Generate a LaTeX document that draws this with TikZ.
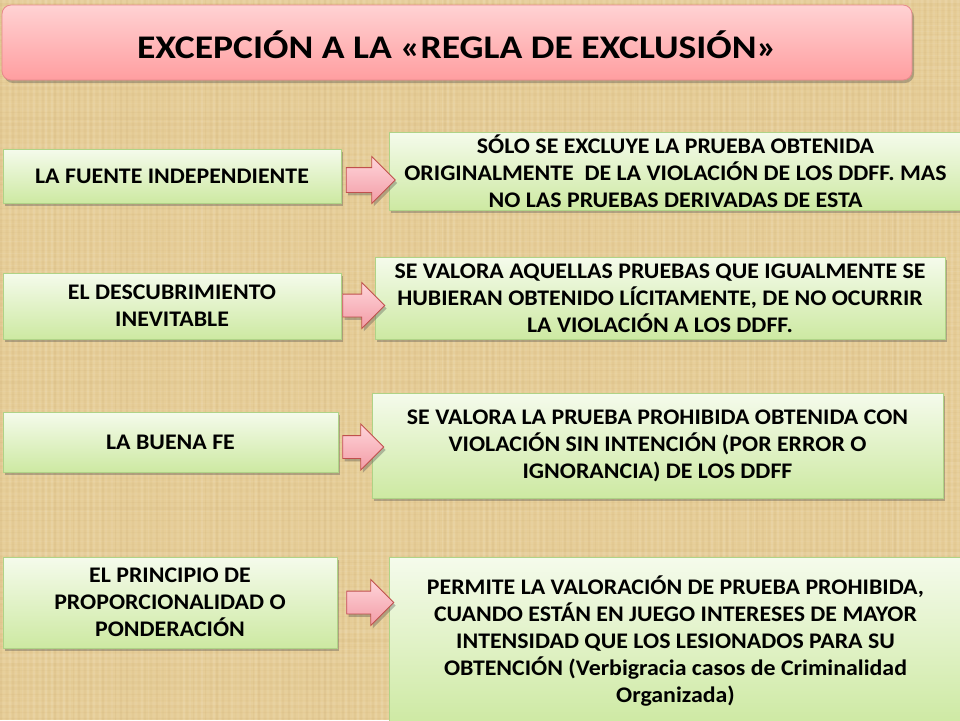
\documentclass[tikz,border=0pt]{standalone}
\usepackage{fontspec}
\setmainfont{Carlito}[FakeStretch=1.07]
\newfontfamily\titlefont{Carlito}[FakeStretch=1.14]
\usetikzlibrary{shapes.arrows,shadows}
\definecolor{bgtan}{HTML}{E6CD97}
\definecolor{titletop}{HTML}{FFD2D3}
\definecolor{titlebot}{HTML}{FF9EA0}
\definecolor{titleline}{HTML}{E88A8C}
\definecolor{greentop}{HTML}{F5FBEC}
\definecolor{greenbot}{HTML}{CDE9A2}
\definecolor{greenline}{HTML}{AFD387}
\definecolor{arrtop}{HTML}{FFD5DA}
\definecolor{arrbot}{HTML}{F29CA6}
\definecolor{arrline}{HTML}{C0504D}
\definecolor{weavedark}{HTML}{B8945A}
\tikzset{
  softshadow/.style={drop shadow={shadow xshift=2pt,shadow yshift=-3pt,opacity=0.35,fill=black!70}},
  titlebox/.style={draw=titleline,line width=0.8pt,rounded corners=9pt,top color=titletop,bottom color=titlebot,softshadow,inner sep=0pt},
  greenbox/.style={draw=greenline,line width=0.8pt,top color=greentop,bottom color=greenbot,softshadow,inner sep=0pt,align=center,
    font=\fontsize{22.3}{27}\selectfont\bfseries},
  blockarrow/.style={single arrow,draw=arrline,line width=0.8pt,top color=arrtop,bottom color=arrbot,inner xsep=0pt,
    single arrow head extend=11.5pt,softshadow},
}
\begin{document}
\begin{tikzpicture}[x=1pt,y=-1pt]
\useasboundingbox (0,0) rectangle (960,720);
\fill[bgtan] (0,0) rectangle (960,720);
% burlap texture
\pgfmathsetseed{7}
\foreach \i in {0,...,319}{
  \pgfmathsetmacro{\op}{0.03+0.08*rnd}
  \pgfmathsetmacro{\w}{0.8+1.6*rnd}
  \ifodd\i
    \draw[white,opacity=\op,line width=\w] (3*\i+1,0) -- (3*\i+1,720);
  \else
    \draw[weavedark,opacity=\op,line width=\w] (3*\i+1,0) -- (3*\i+1,720);
  \fi
}
\foreach \j in {0,...,239}{
  \pgfmathsetmacro{\op}{0.02+0.06*rnd}
  \pgfmathsetmacro{\w}{0.8+1.6*rnd}
  \ifodd\j
    \draw[weavedark,opacity=\op,line width=\w] (0,3*\j+1.5) -- (960,3*\j+1.5);
  \else
    \draw[white,opacity=\op,line width=\w] (0,3*\j+1.5) -- (960,3*\j+1.5);
  \fi
}
% title
\node[titlebox,minimum width=910,minimum height=75] (title) at (457,42.5) {};
\node[font=\titlefont\fontsize{33}{36}\selectfont\bfseries] (titletext) at (457,45) {EXCEPCIÓN A LA «REGLA DE EXCLUSIÓN»};
% left boxes
\node[greenbox,minimum width=338,minimum height=54] (l1) at (172,176) {LA FUENTE INDEPENDIENTE};
\node[greenbox,minimum width=338,minimum height=66] (l2) at (172,306) {EL DESCUBRIMIENTO\\INEVITABLE};
\node[greenbox,minimum width=335,minimum height=60] (l3) at (170.5,442) {LA BUENA FE};
\node[greenbox,minimum width=334,minimum height=91] (l4) at (170,602.5) {EL PRINCIPIO DE\\PROPORCIONALIDAD O\\PONDERACIÓN};
% right boxes
\node[greenbox,minimum width=573,minimum height=78] (r1) at (675.5,171) {SÓLO SE EXCLUYE LA PRUEBA OBTENIDA\\ORIGINALMENTE\ \ DE LA VIOLACIÓN DE LOS DDFF. MAS\\NO LAS PRUEBAS DERIVADAS DE ESTA};
\node[greenbox,minimum width=570,minimum height=82] (r2) at (660,298) {SE VALORA AQUELLAS PRUEBAS QUE IGUALMENTE SE\\HUBIERAN OBTENIDO LÍCITAMENTE, DE NO OCURRIR\\LA VIOLACIÓN A LOS DDFF.};
\node[greenbox,minimum width=571,minimum height=105] (r3) at (657.5,445.5) {SE VALORA LA PRUEBA PROHIBIDA OBTENIDA CON\\VIOLACIÓN SIN INTENCIÓN (POR ERROR O\\IGNORANCIA) DE LOS DDFF};
\node[greenbox,minimum width=573,minimum height=169] (r4) at (675.5,641.5) {PERMITE LA VALORACIÓN DE PRUEBA PROHIBIDA,\\CUANDO ESTÁN EN JUEGO INTERESES DE MAYOR\\INTENSIDAD QUE LOS LESIONADOS PARA SU\\OBTENCIÓN (Verbigracia casos de Criminalidad\\Organizada)};
% arrows
\node[blockarrow,inner ysep=12pt,single arrow head extend=11pt,minimum height=49] (a1) at (364.5,180) {};
\node[blockarrow,inner ysep=11pt,minimum height=42] (a2) at (358,305.5) {};
\node[blockarrow,inner ysep=11pt,minimum height=41] (a3) at (357.5,447) {};
\node[blockarrow,inner ysep=11pt,minimum height=47] (a4) at (364.5,602.5) {};
\end{tikzpicture}
\end{document}
